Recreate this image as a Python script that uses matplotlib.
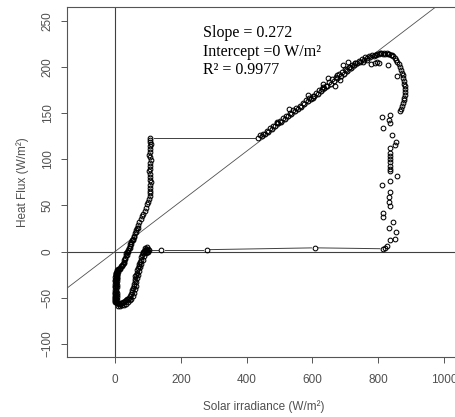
import matplotlib.pyplot as plt
import numpy as np

plt.rcParams['font.family'] = ['Liberation Sans', 'DejaVu Sans']

# fit shown on the chart
slope = 0.272
intercept = 0
r2 = 0.9977

# night, sensor near zero irradiance (two overlapping passes)
night_x = [1, 2, 1, 0, 2, 1, 0, 1, 2, 1, 0, 1, 2, 1, 2, 1, 0, 2, 1, 3, 2, 1, 0, 2, 3, 1, 2, 3, 2, 4, 3]
night_y = [-55, -54, -53, -52, -51, -50, -49, -48, -47, -46, -45, -44, -43, -42, -39, -38, -37, -36,
           -35, -34, -33, -32, -31, -30, -29, -28, -27, -26, -25, -24, -23]
night2_x = [5, 6, 4, 5, 7, 5, 4, 6, 5, 4, 6, 5, 7, 6, 5, 7, 6, 8, 7, 6]
night2_y = [-56, -53, -51, -49, -47, -45, -43, -38, -36, -34, -32, -30, -28, -26, -24, -22, -20, -19, -25, -29]

# dawn rise
dawn_x = [4, 6, 8, 11, 14, 17, 20, 23, 26, 28, 30, 32, 34, 36, 38, 41, 44, 47, 50, 53,
          56, 59, 62, 65, 68, 71, 74, 78, 82, 86, 90, 94, 98, 101, 103, 105, 106]
dawn_y = [-23, -21, -20, -19, -18, -16, -15, -13, -11, -9, -7, -4, -2, 0, 2, 4, 6, 8, 10, 12,
          14, 17, 20, 23, 26, 29, 32, 35, 38, 41, 44, 47, 51, 54, 57, 60, 63]
dawn2_x = [10, 16, 22, 27, 31, 35, 39, 44, 49, 54, 59, 64, 69]
dawn2_y = [-22, -19, -16, -12, -8, -4, 0, 4, 8, 12, 16, 21, 25]

# vertical column near 100 W/m2
column_x = [107, 105, 106, 108, 105, 107, 106, 104, 107, 106, 105, 108, 106, 104, 107, 105, 106, 108, 106, 105, 107]
column_y = [66, 69, 72, 75, 78, 81, 84, 87, 90, 93, 96, 99, 102, 105, 108, 111, 114, 117, 119, 121, 123]

# main upper branch
upper_x = [436, 441, 446, 451, 456, 461, 466, 471, 476, 481, 486, 491, 496, 501, 506, 511, 516, 521, 526, 531,
           536, 541, 546, 551, 556, 561, 566, 571, 576, 581, 586, 591, 596, 601, 606, 611, 616, 621, 626, 631,
           636, 641, 646, 651, 656, 661, 666, 671, 676, 681, 686, 691, 696, 701, 706, 711, 716, 721, 726, 731,
           736, 741, 746, 751, 756, 761, 766, 771, 776, 781]
upper_y = [123, 126, 125, 128, 128, 131, 130, 134, 133, 136, 136, 139, 139, 142, 141, 145, 144, 147, 147, 150,
           149, 153, 152, 156, 155, 158, 157, 161, 160, 164, 163, 167, 165, 169, 169, 172, 171, 175, 174, 178,
           177, 180, 180, 184, 182, 187, 185, 189, 188, 192, 190, 195, 193, 197, 196, 200, 199, 202, 202, 205,
           204, 207, 206, 209, 208, 211, 210, 212, 211, 213]

# off-branch points
stray_x = [492, 529, 588, 603, 628, 633, 648, 669, 676, 684, 694, 700, 709, 715, 730, 765, 777, 796, 803, 790, 755, 831, 856]
stray_y = [140, 155, 170, 166, 176, 182, 188, 180, 191, 186, 202, 198, 206, 200, 204, 208, 203, 206, 204, 204, 206, 202, 190]

# top arc
arc_x = [786, 790, 794, 798, 802, 806, 810, 814, 818, 822, 826, 830, 834, 838, 842, 846, 850, 854, 858, 862,
         866, 869, 872, 875, 877, 879, 880, 881, 882, 882, 881, 880, 878, 876, 873, 870, 866]
arc_y = [212, 213, 213, 214, 214, 215, 215, 214, 215, 214, 215, 214, 214, 213, 213, 212, 210, 208, 206, 203,
         200, 197, 194, 191, 188, 185, 182, 179, 176, 173, 170, 167, 164, 161, 158, 155, 152]

# scattered afternoon fall
fall_x = [811, 836, 834, 836, 816, 841, 854, 851, 836, 836, 836, 836, 836, 836, 836, 836, 858, 811, 836, 836,
          834, 834, 836, 814, 815, 845, 834, 854, 851, 836, 826, 820, 816]
fall_y = [146, 148, 143, 139, 134, 126, 119, 116, 112, 107, 104, 100, 97, 93, 90, 87, 82, 72, 76, 65,
          59, 54, 49, 42, 37, 32, 25, 21, 14, 12, 6, 4, 3]

# return near zero flux
back_x = [608, 279, 140]
back_y = [4, 2, 2]

# evening descent (two overlapping passes)
dusk_x = [98, 95, 92, 89, 86, 84, 82, 80, 78, 76, 74, 72, 70, 68, 66, 64, 62, 61, 60, 59,
          57, 55, 53, 51, 48, 45, 42, 39, 36, 33, 30, 27, 24, 21, 18, 15, 12, 9, 6, 3, 1]
dusk_y = [2, 3, 2, 1, 0, -2, -4, -6, -9, -11, -13, -16, -18, -20, -23, -25, -27, -30, -32, -35,
          -37, -40, -42, -44, -46, -48, -50, -51, -52, -53, -54, -55, -55, -56, -56, -57, -57, -56, -56, -55, -54]
dusk2_x = [93, 88, 84, 80, 76, 73, 70, 67, 65, 63, 60, 57, 54, 50, 46, 40, 34, 28, 22, 16, 10]
dusk2_y = [-2, -5, -9, -13, -17, -21, -25, -29, -33, -37, -41, -45, -48, -51, -53, -55, -57, -58, -58, -59, -59]
blob_x = [100, 97, 94, 99, 92, 102, 96]
blob_y = [0, -1, 1, 3, 4, 2, 5]

x_ticks = [0, 200, 400, 600, 800, 1000]
y_ticks = [-100, -50, 0, 50, 100, 150, 200, 250]

fig = plt.figure(figsize=(4.55, 4.17), dpi=100)
ax = fig.add_axes([66.7 / 455, 60 / 417, (461 - 66.7) / 455, 350 / 417])
ax.set_xlim(-147, 1052)
ax.set_ylim(-114.4, 265.2)

grey = '#555555'
ax.axhline(0, color='#404040', lw=0.8, zorder=1)
ax.axvline(0, color='#404040', lw=0.8, zorder=1)
ax.axline((0, intercept), slope=slope, color='#505050', lw=0.6, zorder=1)

all_x = (night_x + night2_x + dawn_x + dawn2_x + column_x + upper_x + stray_x + arc_x + fall_x
         + back_x + dusk_x + dusk2_x + blob_x)
all_y = (night_y + night2_y + dawn_y + dawn2_y + column_y + upper_y + stray_y + arc_y + fall_y
         + back_y + dusk_y + dusk2_y + blob_y)
ax.plot(all_x, all_y, 'o', ms=3.4, mfc='none', mec='black', mew=0.75, zorder=3)


def gap_lines(xs, ys, gap=3.5):
    # R type="b": lines stop short of the points
    pts = ax.transData.transform(np.column_stack([xs, ys]))
    inv = ax.transData.inverted()
    for p, q in zip(pts[:-1], pts[1:]):
        d = np.hypot(*(q - p))
        if d <= 2 * gap:
            continue
        u = (q - p) / d
        a, b = inv.transform([p + gap * u, q - gap * u])
        ax.plot([a[0], b[0]], [a[1], b[1]], color='#404040', lw=0.7, zorder=2)


gap_lines([column_x[-1], upper_x[0]], [column_y[-1], upper_y[0]])
gap_lines([fall_x[-1]] + back_x + [dusk_x[0]], [fall_y[-1]] + back_y + [dusk_y[0]])

for s in ax.spines.values():
    s.set_color(grey)
    s.set_linewidth(0.8)

ax.set_xticks(x_ticks)
ax.set_yticks(y_ticks)
ax.tick_params(direction='out', length=4.3, width=0.7, colors=grey, labelsize=8.5, labelcolor='#505050')
ax.tick_params(axis='x', pad=8)
ax.tick_params(axis='y', pad=5, labelrotation=90)
for lbl in ax.get_yticklabels():
    lbl.set_va('center')

ax.set_xlabel('Solar irradiance (W/m²)', fontsize=8.5, color='#505050', labelpad=10)
ax.set_ylabel('Heat Flux (W/m²)', fontsize=8.5, color='#505050', labelpad=9)

serif = ['Liberation Serif', 'DejaVu Serif']
fig.text(0.4468, 0.912, f'Slope = {slope}', family=serif, fontsize=11.5, va='baseline')
fig.text(0.4468, 0.866, f'Intercept ={intercept} W/m²', family=serif, fontsize=11.5, va='baseline')
fig.text(0.4468, 0.8225, f'R² = {r2}', family=serif, fontsize=11.5, va='baseline')

fig.savefig('out.png', dpi=100)
